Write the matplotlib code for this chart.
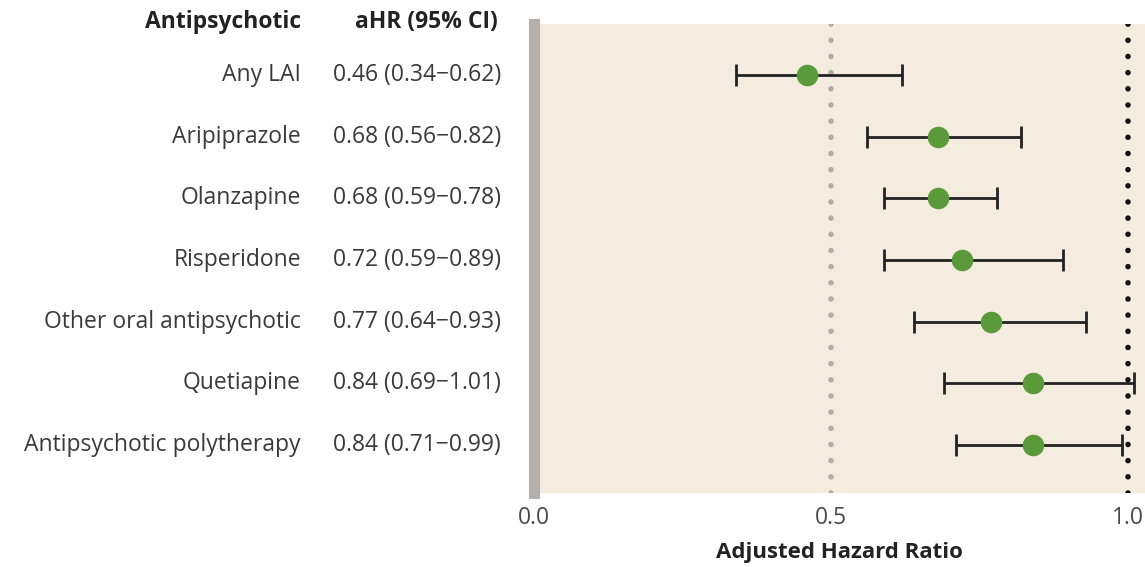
import matplotlib.pyplot as plt
import numpy as np

drugs = ['Any LAI', 'Aripiprazole', 'Olanzapine', 'Risperidone',
         'Other oral antipsychotic', 'Quetiapine', 'Antipsychotic polytherapy']
ahr = [0.46, 0.68, 0.68, 0.72, 0.77, 0.84, 0.84]
ci_low = [0.34, 0.56, 0.59, 0.59, 0.64, 0.69, 0.71]
ci_high = [0.62, 0.82, 0.78, 0.89, 0.93, 1.01, 0.99]
xticks = [0.0, 0.5, 1.0]

plt.rcParams['font.family'] = ['Open Sans', 'DejaVu Sans']
fig = plt.figure(figsize=(11.45, 5.67), dpi=100)
ax = fig.add_axes([534 / 1145, 1 - 493 / 567, 1 - 534 / 1145, (493 - 24) / 567])
ax.set_facecolor('#f5ece0')

y = np.arange(len(drugs))
ahr = np.array(ahr)
err = [ahr - np.array(ci_low), np.array(ci_high) - ahr]

ax.axvline(0.5, color='#b3aca6', lw=4, linestyle=(0, (0.01, 2.9)), dash_capstyle='round', zorder=1)
ax.axvline(1.0, color='#111111', lw=4, linestyle=(0, (0.01, 2.9)), dash_capstyle='round', zorder=1)

ax.errorbar(ahr, y, xerr=err, fmt='o', color='#5b9a3b', markersize=14.5,
            ecolor='#222222', elinewidth=2, capsize=8, capthick=2, zorder=3)

ax.set_xlim(0, (1145 - 534) / 594)
ax.set_ylim(6.78, -0.83)
ax.set_yticks([])
ax.set_xticks(xticks)
ax.set_xticklabels(['0.0', '0.5', '1.0'], fontsize=16.5, color='#4a4a4a')
ax.tick_params(axis='x', length=0, pad=9)
for s in ['top', 'right', 'bottom']:
    ax.spines[s].set_visible(False)
ax.spines['left'].set_color('#b5b0ac')
ax.spines['left'].set_linewidth(8)

ax.set_xlabel('Adjusted Hazard Ratio', fontsize=16, fontweight='bold', color='#222222', labelpad=9)

# left-side table text
name_x = 301 / 1145
val_x = 333 / 1145
for i, d in enumerate(drugs):
    yy = ax.transData.transform((0, i))[1] / fig.bbox.height
    fig.text(name_x, yy, d, ha='right', va='center', fontsize=16.5, color='#3a3a3a')
    fig.text(val_x, yy, f'{ahr[i]:.2f} ({ci_low[i]:.2f}\u2212{ci_high[i]:.2f})',
             ha='left', va='center', fontsize=16.5, color='#3a3a3a')

fig.text(name_x, 1 - 22 / 567, 'Antipsychotic', ha='right', va='center', fontsize=16.5,
         fontweight='bold', color='#222222')
fig.text(426 / 1145, 1 - 22 / 567, 'aHR (95% CI)', ha='center', va='center', fontsize=16.5,
         fontweight='bold', color='#222222')

fig.savefig('out.png', dpi=100)
